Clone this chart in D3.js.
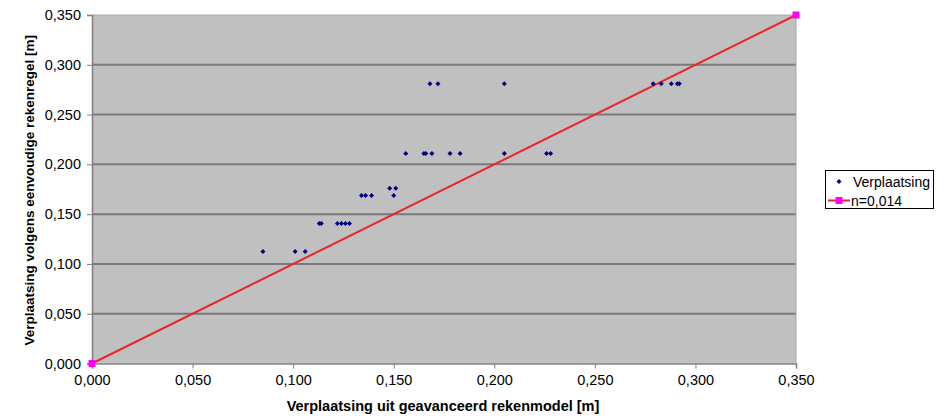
<!DOCTYPE html>
<html><head><meta charset="utf-8">
<script src="https://cdn.jsdelivr.net/npm/d3@7"></script>
<style>body{margin:0;background:#fff;} text{font-family:"Liberation Sans",Arial,sans-serif;}</style>
</head><body>
<svg id="c" width="946" height="416"></svg>
<script>
// Scatter series "Verplaatsing"
const scatterX = [0.085,0.101,0.106, 0.113,0.114,0.122,0.124,0.126,0.128, 0.134,0.136,0.139,0.150, 0.148,0.151,
  0.156,0.165,0.166,0.169,0.178,0.183,0.205,0.226,0.228, 0.168,0.172,0.205,0.279,0.283,0.288,0.291,0.292];
const scatterY = [0.1125,0.1125,0.1125, 0.1406,0.1406,0.1406,0.1406,0.1406,0.1406, 0.1688,0.1688,0.1688,0.1688, 0.176,0.176,
  0.211,0.211,0.211,0.211,0.211,0.211,0.211,0.211,0.211, 0.281,0.281,0.281,0.281,0.281,0.281,0.281,0.281];
// Line series "n=0,014"
const lineX = [0, 0.35];
const lineY = [0, 0.35];
const tickValues = [0,0.05,0.10,0.15,0.20,0.25,0.30,0.35];
const seriesNames = ["Verplaatsing","n=0,014"];
const xTitle = "Verplaatsing uit geavanceerd rekenmodel [m]";
const yTitle = "Verplaatsing volgens eenvoudige rekenregel [m]";

const svg = d3.select("#c");
const L=92, R=796, T=15, B=363.5;
const x = d3.scaleLinear().domain([0,0.35]).range([L,R]);
const y = d3.scaleLinear().domain([0,0.35]).range([B,T]);
const fmt = v => d3.format(".3f")(v).replace(".", ",");

svg.append("rect").attr("x",L).attr("y",T).attr("width",R-L).attr("height",B-T).attr("fill","#c0c0c0");
// gridlines
svg.append("g").selectAll("line").data(tickValues.filter(v=>v>0 && v<0.35)).join("line")
  .attr("x1",L).attr("x2",R).attr("y1",d=>y(d)).attr("y2",d=>y(d))
  .attr("stroke","#7a7a7a").attr("stroke-width",2);
svg.append("line").attr("x1",R).attr("x2",R).attr("y1",T).attr("y2",B).attr("stroke","#a8a8a8").attr("stroke-width",1);
svg.append("line").attr("x1",L).attr("x2",R).attr("y1",T).attr("y2",T).attr("stroke","#a8a8a8").attr("stroke-width",1);

const xa = svg.append("g").attr("transform",`translate(0,${B})`)
  .call(d3.axisBottom(x).tickValues(tickValues).tickFormat(fmt).tickSizeOuter(0).tickSize(5).tickPadding(6));
const ya = svg.append("g").attr("transform",`translate(${L},0)`)
  .call(d3.axisLeft(y).tickValues(tickValues).tickFormat(fmt).tickSizeOuter(0).tickSize(5).tickPadding(6));
[xa,ya].forEach(a=>{
  a.select(".domain").attr("stroke","#808080").attr("stroke-width",1.5);
  a.selectAll(".tick line").attr("stroke","#808080");
  a.selectAll(".tick text").attr("fill","#000").style("font-size","14.5px").style("font-family","'Liberation Sans',Arial,sans-serif");
});

// line series
svg.append("path").datum(lineX.map((v,i)=>[v,lineY[i]]))
  .attr("d", d3.line().x(d=>x(d[0])).y(d=>y(d[1])))
  .attr("stroke","#e8262a").attr("stroke-width",2).attr("fill","none");
svg.append("g").selectAll("rect").data(lineX.map((v,i)=>[v,lineY[i]])).join("rect")
  .attr("x",d=>x(d[0])-3.5).attr("y",d=>y(d[1])-3.5).attr("width",7).attr("height",7).attr("fill","#ff00ff");

// scatter
const diamond = d3.symbol().type(d3.symbolDiamond2).size(16);
svg.append("g").selectAll("path").data(scatterX.map((v,i)=>[v,scatterY[i]])).join("path")
  .attr("d",diamond).attr("transform",d=>`translate(${x(d[0])},${y(d[1])})`).attr("fill","#000080");

// titles
svg.append("text").attr("x",(L+R)/2-1).attr("y",411).attr("text-anchor","middle")
  .style("font-weight","bold").style("font-size","14.5px").text(xTitle);
svg.append("text").attr("transform",`translate(34,${(T+B)/2+1}) rotate(-90)`).attr("text-anchor","middle")
  .style("font-weight","bold").style("font-size","13.5px").text(yTitle);

// legend
const lg = svg.append("g");
lg.append("rect").attr("x",825.5).attr("y",170.5).attr("width",108).attr("height",38)
  .attr("fill","#fff").attr("stroke","#000").attr("stroke-width",1);
lg.append("path").attr("d",diamond).attr("transform","translate(839,181.5)").attr("fill","#000080");
lg.append("text").attr("x",853).attr("y",186.5).style("font-size","14px").text(seriesNames[0]);
lg.append("line").attr("x1",828).attr("x2",850).attr("y1",200.5).attr("y2",200.5).attr("stroke","#e8262a").attr("stroke-width",2);
lg.append("rect").attr("x",835.5).attr("y",197).attr("width",7).attr("height",7).attr("fill","#ff00ff");
lg.append("text").attr("x",851).attr("y",205.5).style("font-size","14px").text(seriesNames[1]);
</script>
</body></html>
